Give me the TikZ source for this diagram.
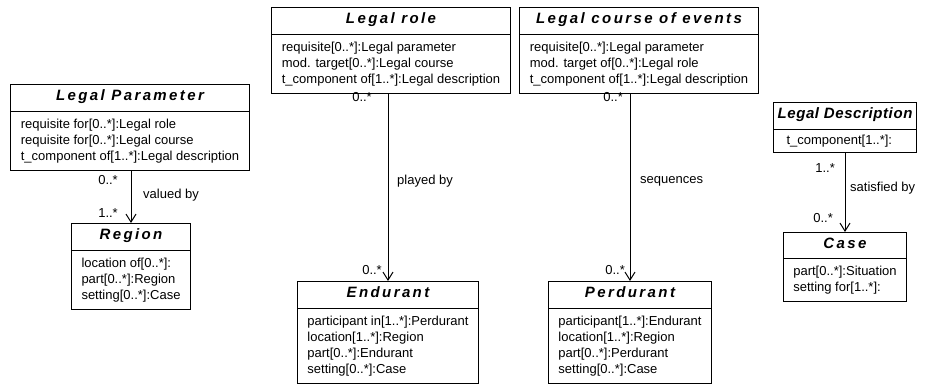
\documentclass[tikz,border=0pt]{standalone}
\usepackage{fontspec}
\setmainfont{Liberation Sans}
\newfontfamily\titlefont[LetterSpace=16]{Liberation Sans}
\usetikzlibrary{
  arrows.meta,
  positioning,
  shapes.multipart
}
\newcommand{\umltitle}[1]{{\titlefont\fontsize{15}{16}\selectfont\bfseries\itshape\rule[-5pt]{0pt}{12pt}#1}}

\begin{document}
\begin{tikzpicture}[
      x=1pt, y=-1pt,
      umlclass/.style={draw, line width=1pt, rectangle split, rectangle split parts=2,
                       rectangle split part align={center,left}, align=left,
                       inner xsep=10pt, inner ysep=5pt, anchor=north,
                       font=\fontsize{13}{16}\selectfont},
      mult/.style={inner sep=0pt, font=\fontsize{13}{16}\selectfont},
      assoc/.style={line width=1pt, -{Straight Barb[length=8pt,width=10pt]}}
  ]
      \useasboundingbox (0,0) rectangle (934,385);

      % Classes
      \node[umlclass] (legparam) at (130,84) {\umltitle{Legal Parameter}
          \nodepart{two}\strut requisite for[0..*]:Legal role\\
          requisite for[0..*]:Legal course\\
          t\_component of[1..*]:Legal description\strut};
      \node[umlclass] (region) at (131,223) {\umltitle{Region}
          \nodepart{two}\strut location of[0..*]:\\
          part[0..*]:Region\\
          setting[0..*]:Case\strut};
      \node[umlclass] (legrole) at (391,7) {\umltitle{Legal role}
          \nodepart{two}\strut requisite[0..*]:Legal parameter\\
          mod. target[0..*]:Legal course\\
          t\_component of[1..*]:Legal description\strut};
      \node[umlclass] (legcourse) at (639,7) {\umltitle{Legal course of events}
          \nodepart{two}\strut requisite[0..*]:Legal parameter\\
          mod. target of[0..*]:Legal role\\
          t\_component of[1..*]:Legal description\strut};
      \node[umlclass] (endurant) at (388,281) {\umltitle{Endurant}
          \nodepart{two}\strut participant in[1..*]:Perdurant\\
          location[1..*]:Region\\
          part[0..*]:Endurant\\
          setting[0..*]:Case\strut};
      \node[umlclass] (perdurant) at (630,281) {\umltitle{Perdurant}
          \nodepart{two}\strut participant[1..*]:Endurant\\
          location[1..*]:Region\\
          part[0..*]:Perdurant\\
          setting[0..*]:Case\strut};
      % narrow header, body indented by hand
      \node[umlclass, inner xsep=4pt] (legdesc) at (845,102) {\umltitle{\addfontfeatures{LetterSpace=4}Legal Description}
          \nodepart{two}\hspace*{9pt}t\_component[1..*]:};
      \node[umlclass] (case) at (845,232) {\umltitle{Case}
          \nodepart{two}\strut part[0..*]:Situation\\
          setting for[1..*]:\strut};

      % Associations
      \draw[assoc] (legparam.south -| region.north) -- (region.north);
      \draw[assoc] (legrole.south -| endurant.north) -- (endurant.north);
      \draw[assoc] (legcourse.south -| perdurant.north) -- (perdurant.north);
      \draw[assoc] (legdesc.south -| case.north) -- (case.north);

      % Multiplicities and role names
      \node[mult, anchor=east] (lpfrom) at (118,180) {0..*};
      \node[mult, anchor=west] (valued) at (143,195) {valued by};
      \node[mult, anchor=east] (lpto) at (118,213) {1..*};

      \node[mult, anchor=east] (lrfrom) at (372,97) {0..*};
      \node[mult, anchor=west] (played) at (397,181) {played by};
      \node[mult, anchor=east] (lrto) at (382,270) {0..*};

      \node[mult, anchor=east] (lcfrom) at (623,97) {0..*};
      \node[mult, anchor=west] (sequences) at (640,181) {sequences};
      \node[mult, anchor=east] (lcto) at (625,270) {0..*};

      \node[mult, anchor=east] (ldfrom) at (835,168) {1..*};
      \node[mult, anchor=west] (satisfied) at (850,188) {satisfied by};
      \node[mult, anchor=east] (ldto) at (833,218) {0..*};
\end{tikzpicture}
\end{document}
